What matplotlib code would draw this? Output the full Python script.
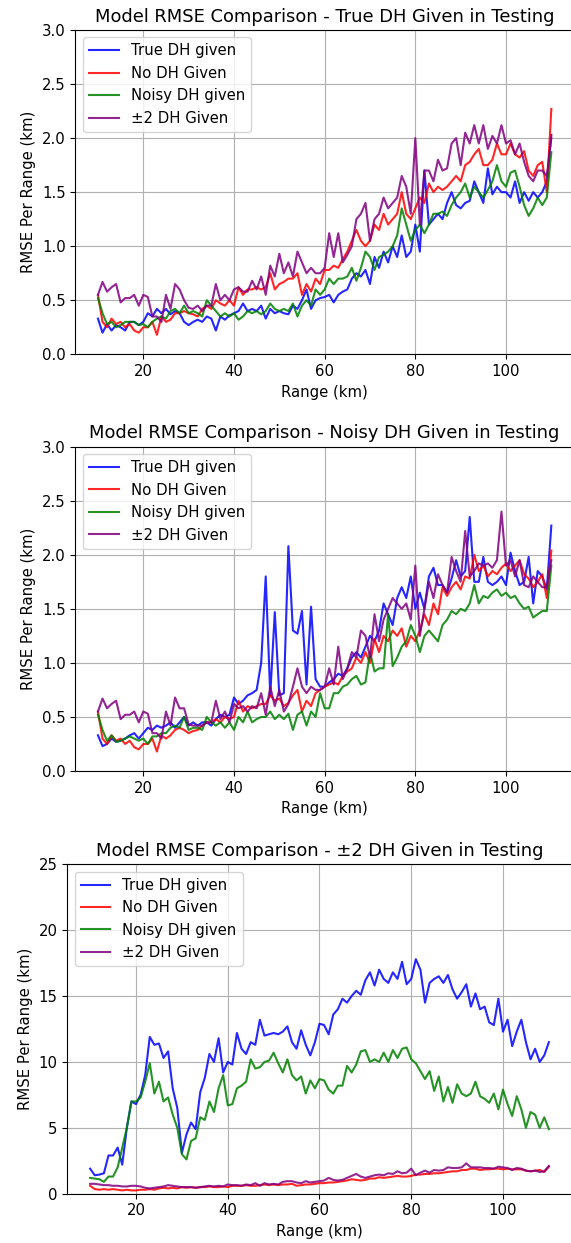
import numpy as np
import matplotlib
matplotlib.use("Agg")
import matplotlib.pyplot as plt

plt.rcParams["font.size"] = 10.75

# range bins (km), one value per km from 10 to 110
ranges = np.arange(10, 111)

labels = ["True DH given", "No DH Given", "Noisy DH given", "\u00b12 DH Given"]
colors = ["blue", "red", "green", "purple"]

# --- test set 1: true DH given ---
true_dh_1 = [0.33, 0.20, 0.28, 0.22, 0.27, 0.25, 0.22, 0.30, 0.30, 0.27,
             0.30, 0.38, 0.35, 0.42, 0.38, 0.42, 0.37, 0.40, 0.38, 0.30,
             0.27, 0.30, 0.32, 0.30, 0.35, 0.33, 0.22, 0.35, 0.32, 0.36,
             0.38, 0.40, 0.47, 0.40, 0.42, 0.40, 0.45, 0.33, 0.42, 0.38,
             0.40, 0.38, 0.37, 0.45, 0.42, 0.50, 0.60, 0.42, 0.50, 0.52,
             0.53, 0.55, 0.48, 0.55, 0.58, 0.60, 0.70, 0.75, 0.72, 0.78,
             0.65, 0.90, 0.80, 0.95, 0.85, 1.00, 0.90, 1.10, 0.90, 0.95,
             1.20, 0.95, 1.70, 1.20, 1.25, 1.30, 1.25, 1.40, 1.50, 1.38,
             1.35, 1.40, 1.42, 1.60, 1.50, 1.40, 1.72, 1.48, 1.55, 1.50,
             1.50, 1.45, 1.60, 1.40, 1.50, 1.42, 1.50, 1.45, 1.50, 1.60,
             2.03]
no_dh_1 = [0.55, 0.30, 0.25, 0.33, 0.28, 0.30, 0.25, 0.28, 0.22, 0.20,
           0.25, 0.25, 0.30, 0.18, 0.35, 0.30, 0.32, 0.38, 0.38, 0.40,
           0.38, 0.37, 0.35, 0.42, 0.45, 0.42, 0.50, 0.47, 0.45, 0.50,
           0.45, 0.62, 0.55, 0.60, 0.60, 0.62, 0.60, 0.62, 0.75, 0.60,
           0.65, 0.67, 0.70, 0.70, 0.75, 0.55, 0.65, 0.58, 0.70, 0.65,
           0.78, 0.78, 0.82, 0.80, 0.88, 0.95, 1.05, 1.15, 1.05, 1.00,
           1.05, 1.20, 1.15, 1.30, 1.20, 1.25, 1.30, 1.50, 1.30, 1.25,
           1.35, 1.45, 1.40, 1.58, 1.50, 1.55, 1.52, 1.55, 1.60, 1.65,
           1.60, 1.75, 1.78, 1.85, 1.90, 1.75, 1.75, 1.80, 1.95, 1.85,
           1.85, 1.95, 1.85, 1.82, 1.88, 1.70, 1.65, 1.75, 1.78, 1.50,
           2.27]
noisy_dh_1 = [0.52, 0.38, 0.28, 0.30, 0.25, 0.27, 0.30, 0.30, 0.30, 0.27,
              0.28, 0.25, 0.30, 0.33, 0.35, 0.33, 0.40, 0.42, 0.38, 0.45,
              0.38, 0.40, 0.38, 0.35, 0.50, 0.45, 0.40, 0.35, 0.38, 0.35,
              0.38, 0.32, 0.35, 0.40, 0.38, 0.40, 0.37, 0.40, 0.47, 0.42,
              0.40, 0.42, 0.40, 0.47, 0.35, 0.45, 0.50, 0.45, 0.60, 0.55,
              0.60, 0.70, 0.65, 0.70, 0.70, 0.72, 0.80, 0.68, 0.80, 0.95,
              0.90, 0.78, 0.90, 0.92, 0.95, 1.00, 1.10, 1.35, 1.20, 1.05,
              1.15, 1.20, 1.12, 1.20, 1.30, 1.30, 1.32, 1.28, 1.38, 1.45,
              1.50, 1.58, 1.45, 1.55, 1.50, 1.45, 1.52, 1.60, 1.75, 1.60,
              1.55, 1.68, 1.70, 1.55, 1.38, 1.28, 1.35, 1.45, 1.38, 1.45,
              1.87]
pm2_dh_1 = [0.55, 0.67, 0.58, 0.62, 0.65, 0.48, 0.52, 0.52, 0.55, 0.45,
            0.55, 0.53, 0.35, 0.35, 0.30, 0.55, 0.42, 0.65, 0.60, 0.50,
            0.43, 0.42, 0.45, 0.40, 0.45, 0.45, 0.65, 0.50, 0.55, 0.50,
            0.60, 0.62, 0.58, 0.58, 0.68, 0.60, 0.72, 0.55, 0.82, 0.72,
            0.93, 0.75, 0.85, 0.72, 0.95, 0.85, 0.75, 0.80, 0.75, 0.75,
            0.80, 1.12, 0.90, 1.12, 0.85, 0.92, 1.00, 1.25, 1.30, 1.40,
            1.05, 1.25, 1.30, 1.45, 1.35, 1.40, 1.45, 1.65, 1.55, 1.30,
            2.00, 1.20, 1.70, 1.70, 1.60, 1.80, 1.70, 1.72, 1.95, 2.00,
            1.75, 2.05, 1.95, 2.12, 1.95, 2.12, 1.90, 2.02, 1.95, 2.12,
            1.95, 1.98, 1.85, 1.95, 1.78, 1.65, 1.60, 1.70, 1.70, 1.65,
            2.00]

# --- test set 2: noisy DH given ---
true_dh_2 = [0.33, 0.23, 0.25, 0.30, 0.27, 0.28, 0.30, 0.33, 0.35, 0.30,
             0.35, 0.40, 0.38, 0.42, 0.40, 0.42, 0.45, 0.40, 0.45, 0.50,
             0.42, 0.45, 0.42, 0.45, 0.45, 0.42, 0.48, 0.52, 0.50, 0.52,
             0.68, 0.62, 0.65, 0.70, 0.72, 0.75, 1.00, 1.80, 0.70, 1.47,
             0.70, 0.72, 2.08, 1.30, 1.27, 1.48, 0.80, 1.52, 0.85, 0.78,
             0.78, 0.82, 0.85, 0.90, 0.88, 0.95, 1.05, 1.10, 1.05, 1.15,
             1.25, 1.20, 1.30, 1.55, 1.45, 1.35, 1.60, 1.70, 1.60, 1.80,
             1.50, 1.65, 1.50, 1.80, 1.88, 1.72, 1.72, 1.65, 1.78, 1.95,
             1.80, 1.85, 2.35, 1.75, 1.75, 1.98, 1.75, 1.72, 1.75, 1.80,
             1.72, 2.02, 1.85, 1.72, 1.75, 1.98, 1.55, 1.85, 1.80, 1.68,
             2.27]
no_dh_2 = [0.55, 0.30, 0.25, 0.33, 0.28, 0.30, 0.25, 0.28, 0.22, 0.20,
           0.25, 0.25, 0.30, 0.18, 0.33, 0.30, 0.33, 0.38, 0.40, 0.38,
           0.35, 0.37, 0.38, 0.42, 0.45, 0.45, 0.48, 0.45, 0.50, 0.48,
           0.50, 0.65, 0.55, 0.60, 0.58, 0.60, 0.62, 0.62, 0.70, 0.65,
           0.67, 0.60, 0.63, 0.70, 0.75, 0.55, 0.65, 0.60, 0.72, 0.75,
           0.78, 0.80, 0.82, 0.80, 0.88, 0.92, 0.95, 1.05, 1.00, 1.10,
           1.00, 1.22, 1.10, 1.25, 1.20, 1.30, 1.25, 1.32, 1.15, 1.25,
           1.20, 1.30, 1.45, 1.35, 1.55, 1.45, 1.70, 1.62, 1.70, 1.75,
           1.68, 1.80, 1.78, 2.00, 1.85, 1.90, 1.80, 1.85, 1.82, 1.88,
           1.92, 1.85, 1.90, 1.95, 1.82, 1.78, 1.70, 1.75, 1.82, 1.60,
           2.04]
noisy_dh_2 = [0.52, 0.38, 0.28, 0.33, 0.27, 0.28, 0.30, 0.32, 0.30, 0.28,
              0.30, 0.25, 0.32, 0.32, 0.35, 0.35, 0.40, 0.42, 0.40, 0.50,
              0.38, 0.40, 0.40, 0.38, 0.50, 0.45, 0.42, 0.45, 0.40, 0.45,
              0.38, 0.50, 0.45, 0.55, 0.45, 0.48, 0.50, 0.50, 0.55, 0.48,
              0.52, 0.48, 0.53, 0.38, 0.52, 0.55, 0.42, 0.55, 0.50, 0.72,
              0.58, 0.58, 0.72, 0.72, 0.78, 0.80, 0.85, 0.88, 0.80, 0.82,
              1.10, 0.92, 0.95, 0.95, 1.45, 0.97, 1.05, 1.15, 1.20, 1.35,
              1.25, 1.10, 1.25, 1.30, 1.25, 1.20, 1.35, 1.40, 1.48, 1.45,
              1.50, 1.48, 1.55, 1.72, 1.55, 1.62, 1.60, 1.65, 1.68, 1.62,
              1.65, 1.60, 1.62, 1.55, 1.50, 1.52, 1.42, 1.45, 1.48, 1.48,
              1.90]
pm2_dh_2 = [0.55, 0.67, 0.58, 0.62, 0.65, 0.48, 0.52, 0.52, 0.55, 0.45,
            0.55, 0.53, 0.35, 0.35, 0.30, 0.55, 0.42, 0.68, 0.58, 0.58,
            0.43, 0.42, 0.42, 0.42, 0.45, 0.45, 0.65, 0.48, 0.55, 0.45,
            0.62, 0.58, 0.60, 0.55, 0.60, 0.58, 0.72, 0.52, 0.78, 0.60,
            0.75, 0.55, 0.62, 0.78, 0.95, 0.78, 0.72, 0.78, 0.75, 0.75,
            0.78, 0.95, 0.80, 1.15, 0.85, 0.95, 1.10, 1.05, 1.30, 1.25,
            1.05, 1.45, 1.20, 1.40, 1.50, 1.60, 1.55, 1.50, 1.55, 1.40,
            1.90, 1.25, 1.50, 1.75, 1.60, 1.82, 1.72, 1.65, 1.98, 1.85,
            1.75, 2.22, 1.80, 1.85, 1.92, 1.90, 1.92, 1.88, 1.95, 2.40,
            1.90, 1.95, 1.80, 1.95, 1.72, 1.70, 1.80, 1.75, 1.70, 1.70,
            1.95]

# --- test set 3: +-2 DH given ---
true_dh_3 = [1.9, 1.4, 1.45, 1.55, 2.9, 2.9, 3.5, 2.2, 5.0, 7.0,
             6.8, 7.5, 9.0, 11.9, 11.3, 11.4, 10.3, 10.8, 8.0, 6.5,
             3.1, 4.5, 5.4, 4.9, 7.7, 8.8, 10.6, 10.0, 11.8, 9.2,
             10.0, 9.8, 12.2, 11.0, 10.6, 11.5, 11.3, 13.2, 12.0, 12.1,
             12.2, 12.1, 12.3, 12.7, 11.5, 11.0, 12.4, 11.3, 10.5, 11.5,
             12.9, 12.8, 12.1, 13.6, 14.0, 14.8, 14.5, 15.0, 15.4, 15.1,
             16.2, 16.8, 15.8, 17.0, 16.3, 16.0, 16.8, 16.3, 17.6, 15.9,
             16.3, 17.8, 17.0, 14.5, 16.0, 16.3, 16.5, 16.0, 16.6, 15.5,
             14.8, 15.3, 15.9, 14.2, 15.2, 14.0, 14.2, 13.0, 12.8, 14.8,
             12.3, 13.2, 11.2, 12.3, 13.2, 11.5, 10.2, 11.0, 10.0, 10.5,
             11.5]
no_dh_3 = [0.60, 0.35, 0.30, 0.35, 0.30, 0.35, 0.30, 0.25, 0.30, 0.25,
           0.25, 0.30, 0.30, 0.35, 0.30, 0.40, 0.45, 0.40, 0.45, 0.40,
           0.50, 0.45, 0.50, 0.45, 0.50, 0.50, 0.55, 0.50, 0.50, 0.55,
           0.50, 0.60, 0.60, 0.60, 0.65, 0.60, 0.60, 0.65, 0.70, 0.65,
           0.70, 0.65, 0.70, 0.70, 0.75, 0.60, 0.65, 0.70, 0.70, 0.75,
           0.80, 0.80, 0.85, 0.85, 0.90, 0.95, 1.00, 1.10, 1.05, 1.00,
           1.05, 1.15, 1.15, 1.25, 1.20, 1.25, 1.30, 1.35, 1.30, 1.30,
           1.35, 1.45, 1.45, 1.50, 1.50, 1.55, 1.55, 1.60, 1.65, 1.70,
           1.70, 1.80, 1.80, 1.90, 1.90, 1.80, 1.85, 1.85, 1.90, 1.90,
           1.85, 1.90, 1.85, 1.85, 1.85, 1.75, 1.70, 1.75, 1.80, 1.65,
           2.05]
noisy_dh_3 = [1.2, 1.15, 1.1, 0.9, 1.3, 1.3, 2.0, 3.5, 5.0, 7.0,
              7.0, 7.3, 8.5, 9.9, 7.6, 8.5, 7.0, 7.3, 6.0, 5.0,
              3.0, 2.6, 4.0, 4.2, 5.8, 5.6, 7.0, 6.2, 8.0, 9.0,
              6.7, 6.8, 8.0, 8.2, 8.5, 10.2, 9.5, 9.6, 10.0, 10.1,
              10.7, 9.9, 9.2, 10.2, 9.0, 8.6, 8.9, 7.6, 8.6, 8.0,
              8.7, 8.6, 7.9, 7.6, 8.2, 8.2, 9.7, 9.2, 9.8, 10.8,
              10.9, 10.0, 10.2, 10.0, 10.7, 10.0, 10.9, 10.3, 11.0, 11.1,
              10.2, 9.9, 9.3, 8.7, 9.3, 7.8, 8.9, 7.0, 8.1, 6.9,
              8.3, 7.6, 7.4, 7.6, 8.5, 7.4, 7.2, 6.9, 7.6, 6.4,
              7.9, 6.8, 5.9, 7.4, 6.4, 5.0, 6.2, 6.0, 5.0, 5.8,
              4.9]
pm2_dh_3 = [0.75, 0.75, 0.70, 0.65, 0.65, 0.60, 0.60, 0.55, 0.55, 0.60,
            0.60, 0.55, 0.45, 0.40, 0.45, 0.50, 0.55, 0.65, 0.60, 0.55,
            0.50, 0.50, 0.50, 0.45, 0.50, 0.55, 0.60, 0.55, 0.60, 0.55,
            0.70, 0.65, 0.65, 0.60, 0.70, 0.65, 0.80, 0.60, 0.80, 0.70,
            0.75, 0.70, 0.90, 0.95, 0.95, 0.85, 0.80, 0.95, 0.85, 0.90,
            0.95, 1.00, 1.20, 1.05, 1.00, 1.05, 1.20, 1.35, 1.50, 1.30,
            1.20, 1.30, 1.40, 1.45, 1.40, 1.55, 1.50, 1.70, 1.55, 1.60,
            1.90, 1.40, 1.60, 1.75, 1.60, 1.80, 1.75, 1.80, 2.00, 1.95,
            1.95, 2.00, 2.30, 2.00, 2.00, 2.00, 1.95, 1.95, 1.90, 2.05,
            2.00, 1.95, 1.80, 1.95, 1.90, 1.75, 1.70, 1.75, 1.65, 1.70,
            2.10]

panels = [
    ("Model RMSE Comparison - True DH Given in Testing",
     [true_dh_1, no_dh_1, noisy_dh_1, pm2_dh_1], 3.0, 0.5),
    ("Model RMSE Comparison - Noisy DH Given in Testing",
     [true_dh_2, no_dh_2, noisy_dh_2, pm2_dh_2], 3.0, 0.5),
    ("Model RMSE Comparison - \u00b12 DH Given in Testing",
     [true_dh_3, no_dh_3, noisy_dh_3, pm2_dh_3], 25, 5),
]

W, H = 571, 1243
fig = plt.figure(figsize=(W / 100, H / 100), dpi=100)

# axes boxes in pixels: left, top, right, bottom
boxes = [(75.3, 30.0, 574.0, 354.3),
         (75.3, 446.7, 574.0, 771.0),
         (67.2, 864.3, 571.8, 1193.7)]

for (title, series, ymax, ystep), (l, t, r, b) in zip(panels, boxes):
    ax = fig.add_axes([l / W, (H - b) / H, (r - l) / W, (b - t) / H])
    for vals, lab, c in zip(series, labels, colors):
        ax.plot(ranges, vals, color=c, alpha=0.85, lw=1.5, label=lab)
    ax.set_title(title)
    ax.set_xlabel("Range (km)")
    ax.set_ylabel("RMSE Per Range (km)")
    ax.set_ylim(0, ymax)
    ax.set_yticks(np.arange(0, ymax + ystep / 2, ystep))
    ax.grid(True)
    ax.legend(loc="upper left")

fig.savefig("out.png", dpi=100)
